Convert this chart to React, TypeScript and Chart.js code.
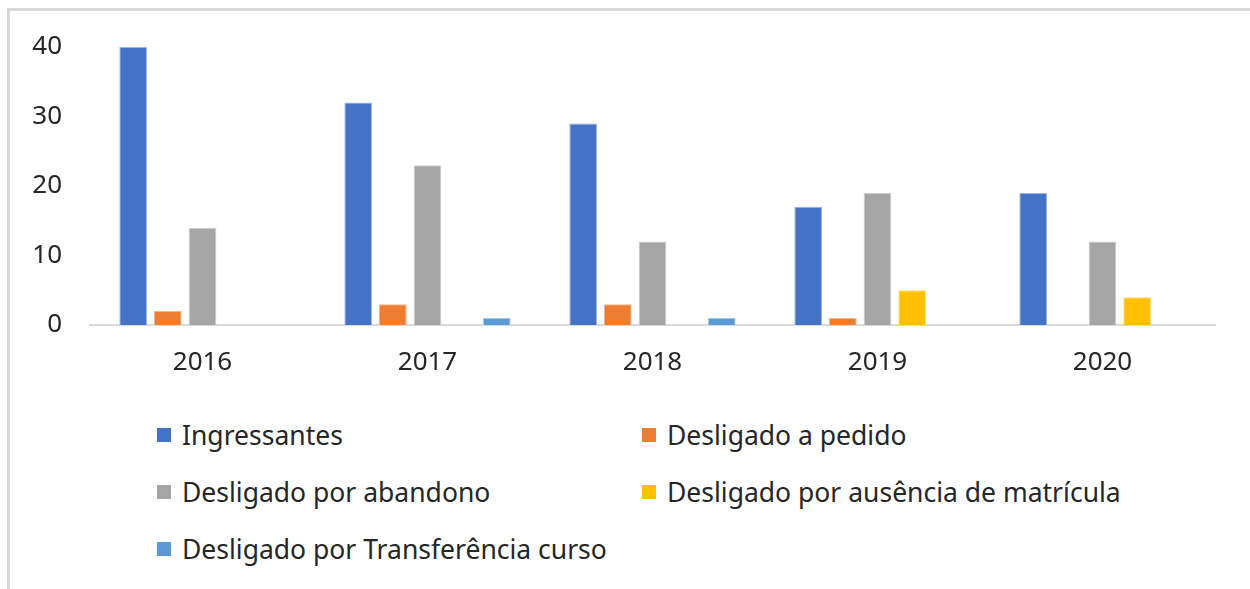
import React, { useEffect, useRef } from "react";
import { Chart, registerables } from "chart.js";

Chart.register(...registerables);

const categories = ["2016", "2017", "2018", "2019", "2020"];
const seriesNames = [
  "Ingressantes",
  "Desligado a pedido",
  "Desligado por abandono",
  "Desligado por ausência de matrícula",
  "Desligado por Transferência curso",
];
const ingressantes = [40, 32, 29, 17, 19];
const desligadoPedido = [2, 3, 3, 1, 0];
const desligadoAbandono = [14, 23, 12, 19, 12];
const desligadoAusencia = [0, 0, 0, 5, 4];
const desligadoTransferencia = [0, 1, 1, 0, 0];
const yTicks = [0, 10, 20, 30, 40];

const colors = ["#4472C4", "#ED7D31", "#A5A5A5", "#FFC000", "#5B9BD5"];
const edgeColors = ["#9DB4E0", "#F5B48A", "#CDCDCD", "#FFDB7A", "#A6C9EA"];
const FONT = "'Noto Sans', 'Open Sans', sans-serif";
const TEXT = "#262626";

export default function App() {
  const canvasRef = useRef<HTMLCanvasElement | null>(null);

  useEffect(() => {
    const canvas = canvasRef.current;
    if (!canvas) return;
    const seriesData = [
      ingressantes,
      desligadoPedido,
      desligadoAbandono,
      desligadoAusencia,
      desligadoTransferencia,
    ];
    const chart = new Chart(canvas, {
      type: "bar",
      data: {
        labels: categories,
        datasets: seriesNames.map((name, i) => ({
          label: name,
          data: seriesData[i],
          backgroundColor: colors[i],
          borderColor: edgeColors[i],
          borderWidth: 1,
          categoryPercentage: 0.77,
          barPercentage: 0.8,
        })),
      },
      options: {
        animation: false,
        responsive: false,
        maintainAspectRatio: false,
        devicePixelRatio: 1,
        layout: { padding: { left: 0, right: 35, top: 47, bottom: 0 } },
        plugins: {
          legend: { display: false },
          tooltip: { enabled: false },
          title: { display: false },
        },
        scales: {
          x: {
            grid: { display: false, drawTicks: false },
            border: { display: true, color: "#D9D9D9", width: 2 },
            ticks: {
              color: TEXT,
              font: { family: FONT, size: 26 },
              padding: 22,
              maxRotation: 0,
            },
            afterFit: (scale: any) => {
              scale.height = 75;
            },
          },
          y: {
            min: 0,
            max: 40,
            grid: { display: false, drawTicks: false },
            border: { display: false },
            afterBuildTicks: (scale: any) => {
              scale.ticks = yTicks.map((v) => ({ value: v }));
            },
            ticks: {
              color: TEXT,
              font: { family: FONT, size: 26 },
              padding: 28,
              stepSize: 10,
            },
            afterFit: (scale: any) => {
              scale.width = 90;
            },
          },
        },
      },
    });
    return () => chart.destroy();
  }, []);

  const rows = [
    [0, 1],
    [2, 3],
    [4],
  ];
  const rowCenters = [435, 492, 549];
  const colMarkerX = [157, 642];

  return (
    <div
      style={{
        position: "absolute",
        left: 0,
        top: 0,
        width: 1250,
        height: 589,
        overflow: "hidden",
        background: "#FFFFFF",
      }}
    >
      <div
        style={{
          position: "absolute",
          left: 7,
          top: 8,
          width: 1400,
          height: 800,
          border: "3px solid #D9D9D9",
          boxSizing: "border-box",
        }}
      />
      <canvas
        ref={canvasRef}
        width={1250}
        height={400}
        style={{ position: "absolute", left: 0, top: 0, width: 1250, height: 400 }}
      />
      {rows.map((row, r) =>
        row.map((si, c) => (
          <div
            key={si}
            style={{
              position: "absolute",
              left: colMarkerX[c],
              top: rowCenters[r] - 20,
              height: 40,
              display: "flex",
              alignItems: "center",
              whiteSpace: "nowrap",
            }}
          >
            <span
              style={{
                display: "inline-block",
                width: 14,
                height: 14,
                background: colors[si],
                marginRight: 11,
              }}
            />
            <span
              style={{
                fontFamily: FONT,
                fontSize: 26.5,
                color: TEXT,
                lineHeight: "40px",
              }}
            >
              {seriesNames[si]}
            </span>
          </div>
        ))
      )}
    </div>
  );
}
